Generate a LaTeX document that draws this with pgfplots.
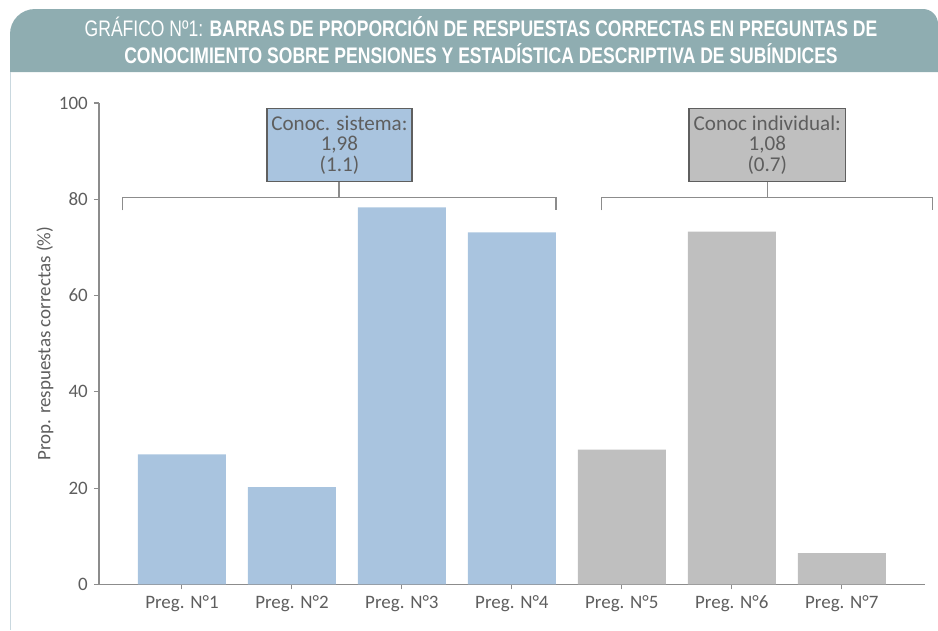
\documentclass[border=0pt]{standalone}
\usepackage{pgfplots}
\pgfplotsset{compat=1.18}
\usepackage{fontspec}
\setmainfont{Carlito}
\newfontfamily\titlefont[FakeStretch=0.78]{Liberation Sans}
\definecolor{banner}{HTML}{8FADB1}
\definecolor{edge}{HTML}{C9D8DF}
\definecolor{barblue}{HTML}{A9C4DF}
\definecolor{bargray}{HTML}{BFBFBF}
\definecolor{axisgray}{HTML}{8C8C8C}
\definecolor{labelgray}{HTML}{5E5E5E}
\definecolor{boxline}{HTML}{5F5F5F}
\begin{document}
\begin{tikzpicture}
\begin{scope}[x=0.02cm,y=-0.02cm]
  \path[use as bounding box] (0,0) rectangle (938,630);
  \fill[banner] (10,72) -- (10,34) to[out=90,in=180] (35,9) -- (923,9) to[out=0,in=90] (938,24) -- (938,72) -- cycle;
  \draw[edge,line width=0.04cm] (10.5,72) -- (10.5,630);
  \node[text=white,align=center,font=\titlefont\fontsize{12.8}{15.3}\selectfont] at (481,40)
    {GRÁFICO Nº1: \textbf{BARRAS DE PROPORCIÓN DE RESPUESTAS CORRECTAS EN PREGUNTAS DE}\\
     \textbf{CONOCIMIENTO SOBRE PENSIONES Y ESTADÍSTICA DESCRIPTIVA DE SUBÍNDICES}};
\end{scope}
\begin{axis}[
  at={(1.98cm,-11.69cm)},anchor=south west,
  scale only axis,width=16.52cm,height=9.63cm,
  xmin=0.2455,xmax=7.755,ymin=0,ymax=100,
  axis lines=left,
  axis line style={-,draw=axisgray,line width=0.8pt},
  xtick={1,2,3,4,5,6,7},
  xticklabels={Preg. N°1,Preg. N°2,Preg. N°3,Preg. N°4,Preg. N°5,Preg. N°6,Preg. N°7},
  ytick={0,20,40,60,80,100},
  tick align=outside,major tick length=0.1cm,
  tick style={draw=axisgray,line width=0.6pt},
  ticklabel style={font=\fontsize{10.8}{13}\selectfont,text=labelgray},
  /pgf/number format/assume math mode=true,
  ylabel={Prop. respuestas correctas (\%)},
  every axis y label/.style={at={(axis description cs:-0.0654,0.5)},rotate=90,anchor=center,
    font=\fontsize{10.8}{13}\selectfont,text=labelgray},
  clip=false,
]
  \addplot[ybar,bar width=0.8,bar shift=0pt,fill=barblue,draw=none] coordinates {(1,27.0) (2,20.2) (3,78.3) (4,73.1)};
  \addplot[ybar,bar width=0.8,bar shift=0pt,fill=bargray,draw=none] coordinates {(5,28.0) (6,73.3) (7,6.5)};
  % brackets and summary boxes
  \draw[axisgray,line width=0.75pt] (axis cs:0.461,77.7) -- (axis cs:0.461,80.4) -- (axis cs:4.40,80.4) -- (axis cs:4.40,77.7);
  \draw[axisgray,line width=0.75pt] (axis cs:2.427,80.4) -- (axis cs:2.427,83.75);
  \draw[axisgray,line width=0.75pt] (axis cs:4.812,77.7) -- (axis cs:4.812,80.4) -- (axis cs:7.827,80.4) -- (axis cs:7.827,77.7);
  \draw[axisgray,line width=0.75pt] (axis cs:6.327,80.4) -- (axis cs:6.327,83.75);
  \draw[boxline,fill=barblue,line width=0.8pt] (axis cs:1.773,83.75) rectangle (axis cs:3.091,98.9);
  \draw[boxline,fill=bargray,line width=0.8pt] (axis cs:5.609,83.75) rectangle (axis cs:7.036,98.9);
  \node[align=center,text=labelgray,font=\fontsize{12}{11.7}\selectfont] at (axis cs:2.432,91.3)
    {Conoc. sistema:\\1,98\\(1.1)};
  \node[align=center,text=labelgray,font=\fontsize{12}{11.7}\selectfont] at (axis cs:6.3225,91.3)
    {Conoc individual:\\1,08\\(0.7)};
\end{axis}
\end{tikzpicture}
\end{document}
